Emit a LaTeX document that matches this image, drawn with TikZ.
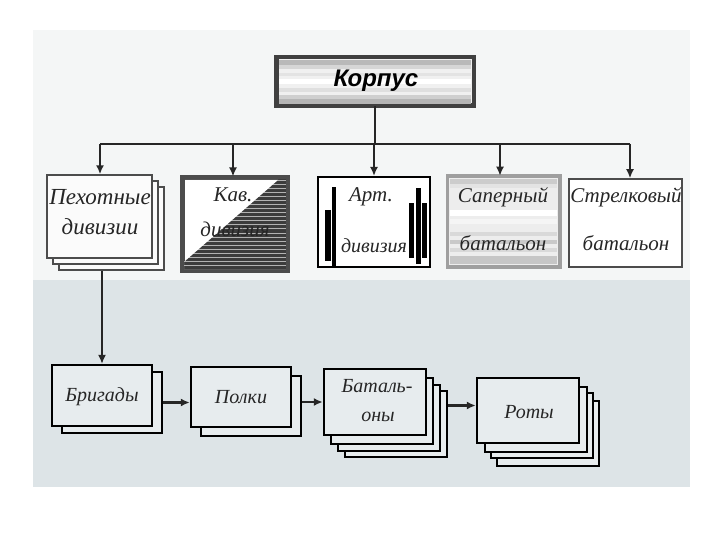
\documentclass[tikz,border=0pt]{standalone}
\usepackage{fontspec}
\setmainfont{Liberation Serif}
\newfontfamily\sansbi{Liberation Sans}
\usetikzlibrary{arrows.meta}
\definecolor{topbg}{HTML}{F4F6F6}
\definecolor{botbg}{HTML}{DDE4E7}
\definecolor{boxfill}{HTML}{E7ECEE}
\definecolor{kavdark}{HTML}{3C3C3C}
\begin{document}
\begin{tikzpicture}[x=1pt,y=-1pt,
  conn/.style={line width=2pt, draw=black!85},
  arr/.style={conn, -{Latex[length=9pt,width=8pt]}},
  korp/.style={draw=black!75, line width=3pt, fill=gray!12, inner sep=0pt},
  pexbox/.style={draw=gray!60!black, line width=1.4pt, fill=gray!3, inner sep=0pt},
  kavbox/.style={draw=black!70, line width=3pt, fill=kavdark, inner sep=0pt},
  artbox/.style={draw=black, line width=2pt, fill=white, inner sep=0pt},
  sapbox/.style={draw=gray!75, line width=2.5pt, fill=gray!14, inner sep=0pt},
  strbox/.style={draw=black!70, line width=1.5pt, fill=white, inner sep=0pt},
  lowbox/.style={draw=black, line width=2.4pt, fill=boxfill, inner sep=0pt},
  lbl/.style={font=\itshape\fontsize{21}{21}\selectfont, inner sep=0pt, text=black!85},
  lblb/.style={font=\itshape\fontsize{23}{23}\selectfont, inner sep=0pt, text=black!85},
  lbls/.style={font=\itshape\fontsize{20}{20}\selectfont, inner sep=0pt, text=black!85},
  bar/.style={fill=black},
]
\useasboundingbox (0,0) rectangle (720,540);
\fill[white] (0,0) rectangle (720,540);
\fill[topbg] (33,30) rectangle (690,280);
\fill[botbg] (33,280) rectangle (690,487);

% ---------- Korpus ----------
\node[korp, minimum width=196pt, minimum height=47pt] (korpus) at (375,81.5) {};
\fill[gray!55] (279,60) rectangle (471,65);
\fill[gray!32] (279,65) rectangle (471,69);
\fill[gray!22] (279,73) rectangle (471,76);
\fill[white]   (279,79) rectangle (471,84);
\fill[gray!25] (279,88) rectangle (471,92);
\fill[gray!38] (279,95) rectangle (471,99);
\fill[gray!58] (279,99) rectangle (471,104);
\draw[black!75, line width=3pt] (korpus.north west) rectangle (korpus.south east);
\node[font=\sansbi\bfseries\itshape\fontsize{24}{24}\selectfont, inner sep=0pt] (korpusT) at (376,81) {Корпус};

% ---------- middle row ----------
% Pekhotnye (stacked)
\node[pexbox, minimum width=105pt, minimum height=83pt] (pex2) at (111.5,228.5) {};
\node[pexbox, minimum width=105pt, minimum height=83pt] (pex1) at (105.5,222.5) {};
\node[pexbox, minimum width=105pt, minimum height=83pt] (pex) at (99.5,216.5) {};
\node[lblb] (pexT1) at (100,197) {Пехотные};
\node[lblb] (pexT2) at (100,227) {дивизии};

% Kav
\node[kavbox, minimum width=104pt, minimum height=92pt] (kav) at (235,224) {};
\begin{scope}
  \clip (278,180) -- (286,180) -- (286,269) -- (184,269) -- (184,261) -- cycle;
  \foreach \yy in {181,185,...,269}
    \draw[gray!60, line width=1pt] (184,\yy) -- (286,\yy);
\end{scope}
\fill[white] (185,180) -- (278,180) -- (185,261) -- cycle;
\draw[black!70, line width=3pt] (kav.north west) rectangle (kav.south east);
\node[lbl] (kavT1) at (233,195) {Кав.};
\node[lbl] (kavT2) at (235,229) {дивизия};

% Art
\node[artbox, minimum width=112pt, minimum height=90pt] (art) at (374,222) {};
\fill[bar] (325,210) rectangle (331,261);
\fill[bar] (332,187) rectangle (336,267);
\fill[bar] (409,203) rectangle (414,258);
\fill[bar] (416,188) rectangle (421,264);
\fill[bar] (422,203) rectangle (427,258);
\node[lbl] (artT1) at (371,197) {Арт.};
\node[lbls] (artT2) at (374,246) {дивизия};

% Sapernyi
\node[sapbox, minimum width=111pt, minimum height=89pt] (sap) at (503.5,221.5) {};
\fill[gray!40] (450,179) rectangle (557,184);
\fill[gray!22] (450,184) rectangle (557,188);
\fill[white]   (450,210) rectangle (557,216);
\fill[gray!8]  (450,219) rectangle (557,224);
\fill[gray!30] (450,232) rectangle (557,236);
\fill[gray!42] (450,240) rectangle (557,244);
\fill[gray!30] (450,248) rectangle (557,252);
\fill[gray!45] (450,256) rectangle (557,264);
\draw[gray!75, line width=2.5pt] (sap.north west) rectangle (sap.south east);
\node[lbl] (sapT1) at (503,197) {Саперный};
\node[lbl] (sapT2) at (503,243) {батальон};

% Strelkovyi
\node[strbox, minimum width=113pt, minimum height=88pt] (str) at (625.5,223) {};
\node[lbl] (strT1) at (626,197) {Стрелковый};
\node[lbl] (strT2) at (626,243) {батальон};

% ---------- connectors from Korpus ----------
\coordinate (busL) at (100,144);
\coordinate (busR) at (630,144);
\coordinate (bKav) at (233,144);
\coordinate (bArt) at (374,144);
\coordinate (bSap) at (500,144);
\draw[conn] (korpus.south) -- (korpus.south |- busL);
\draw[conn, line width=2.4pt] (busL) -- (busR);
\draw[arr] (busL) -- (busL |- pex.north);
\draw[arr] (bKav) -- (bKav |- kav.north);
\draw[arr] (bArt) -- (bArt |- art.north);
\draw[arr] (bSap) -- (bSap |- sap.north);
\draw[arr] (busR) -- (busR |- str.north);

% ---------- bottom row ----------
% Brigady
\node[lowbox, minimum width=100pt, minimum height=61pt] (brig1) at (112,402.5) {};
\node[lowbox, minimum width=100pt, minimum height=61pt] (brig) at (102,395.5) {};
\node[lbls] (brigT) at (102,397) {Бригады};

% Polki
\node[lowbox, minimum width=100pt, minimum height=60pt] (polk1) at (251,406) {};
\node[lowbox, minimum width=100pt, minimum height=60pt] (polk) at (241,397) {};
\node[lbls] (polkT) at (241,397) {Полки};

% Batal'ony
\node[lowbox, minimum width=102pt, minimum height=66pt] (bat3) at (396,424) {};
\node[lowbox, minimum width=102pt, minimum height=66pt] (bat2) at (389,418) {};
\node[lowbox, minimum width=102pt, minimum height=66pt] (bat1) at (382,411) {};
\node[lowbox, minimum width=102pt, minimum height=66pt] (bat) at (375,402) {};
\node[lbls] (batT1) at (377,386) {Баталь-};
\node[lbls] (batT2) at (378,417) {оны};

% Roty
\node[lowbox, minimum width=102pt, minimum height=65pt] (rot3) at (548,433.5) {};
\node[lowbox, minimum width=102pt, minimum height=65pt] (rot2) at (542,425.5) {};
\node[lowbox, minimum width=102pt, minimum height=65pt] (rot1) at (536,419.5) {};
\node[lowbox, minimum width=102pt, minimum height=65pt] (rot) at (528,410.5) {};
\node[lbls] (rotT) at (529,412) {Роты};

% ---------- bottom connectors ----------
\draw[arr, line width=1.5pt] (brig.north |- pex2.south) -- (brig.north);
\draw[arr, line width=2.4pt] (brig1.east) -- (brig1.east -| polk.west);
\draw[arr, line width=2.4pt] (polk1.east |- bat.west) -- (bat.west);
\coordinate (rw) at ([yshift=5pt]rot.west);
\draw[arr, line width=2.6pt] (rw -| bat3.east) -- (rw);
\end{tikzpicture}
\end{document}
